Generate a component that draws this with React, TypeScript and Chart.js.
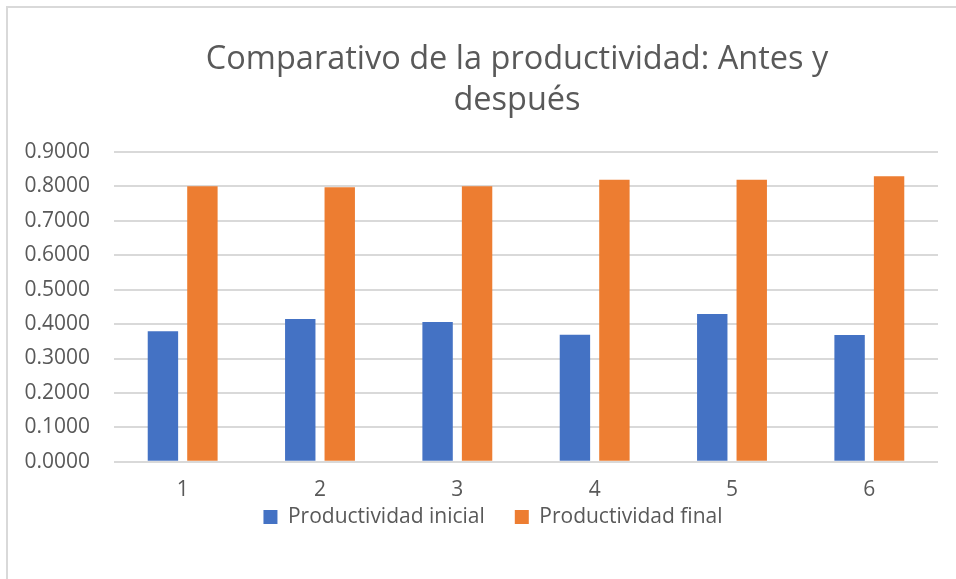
import React, { useEffect, useRef } from "react";
import { Chart, registerables } from "chart.js";

Chart.register(...registerables);

const categories = ["1", "2", "3", "4", "5", "6"];
const productividadInicial = [0.379, 0.415, 0.406, 0.369, 0.429, 0.368];
const productividadFinal = [0.8, 0.797, 0.8, 0.819, 0.819, 0.829];
const seriesNames = ["Productividad inicial", "Productividad final"];
const titleLines = ["Comparativo de la productividad: Antes y", "después"];
const yMax = 0.9;
const yStep = 0.1;

const FONT = "'Open Sans', 'Noto Sans', sans-serif";
const TEXT = "#595959";
const GRID = "#d9d9d9";
const LEGEND_PAD = 30;
const LEGEND_FONT = 21;

const placeBoxes = {
  id: "placeBoxes",
  afterLayout(chart: any) {
    const shift = (box: any, target: number) => {
      if (!box) return;
      const c = (box.left + box.right) / 2;
      const dx = target - c;
      box.left += dx;
      box.right += dx;
    };
    shift(chart.titleBlock, 517);
    shift(chart.legend, 493);
    const lg = chart.legend;
    if (lg) {
      const top = 517 - LEGEND_PAD - LEGEND_FONT / 2;
      lg.top = top;
      lg.bottom = top + lg.height;
    }
  },
};

export default function App() {
  const ref = useRef<HTMLCanvasElement | null>(null);
  useEffect(() => {
    if (!ref.current) return;
    const chart = new Chart(ref.current, {
      type: "bar",
      data: {
        labels: categories,
        datasets: [
          {
            label: seriesNames[0],
            data: productividadInicial,
            backgroundColor: "#4472C4",
            categoryPercentage: 0.575,
            barPercentage: 0.77,
          },
          {
            label: seriesNames[1],
            data: productividadFinal,
            backgroundColor: "#ED7D31",
            categoryPercentage: 0.575,
            barPercentage: 0.77,
          },
        ],
      },
      plugins: [placeBoxes],
      options: {
        animation: false,
        responsive: false,
        maintainAspectRatio: false,
        layout: { padding: { left: 20, right: 18, top: 0, bottom: 7 } },
        plugins: {
          title: {
            display: true,
            text: titleLines,
            color: TEXT,
            font: { family: FONT, size: 32.5, weight: "normal", lineHeight: 1.26 },
            padding: { top: 39, bottom: 31 },
          },
          legend: {
            position: "bottom",
            labels: {
              color: TEXT,
              font: { family: FONT, size: LEGEND_FONT },
              boxWidth: 14,
              boxHeight: 14,
              padding: LEGEND_PAD,
            },
          },
          tooltip: { enabled: false },
        },
        scales: {
          x: {
            grid: { display: false },
            border: { display: false },
            ticks: { color: TEXT, font: { family: FONT, size: 21 }, padding: 8 },
          },
          y: {
            min: 0,
            max: yMax,
            afterFit(scale: any) {
              scale.width = 94;
            },
            grid: { color: GRID, lineWidth: 2, drawTicks: false },
            border: { display: false },
            ticks: {
              stepSize: yStep,
              color: TEXT,
              font: { family: FONT, size: 21 },
              padding: 24,
              callback: (v: any) => Number(v).toFixed(4),
            },
          },
        },
      },
    });
    return () => chart.destroy();
  }, []);
  return (
    <div style={{ position: "fixed", left: 0, top: 0, width: 956, height: 579, background: "#fff", overflow: "hidden" }}>
      <div
        style={{
          position: "absolute",
          left: 6,
          top: 6,
          width: 960,
          height: 600,
          borderLeft: `2px solid ${GRID}`,
          borderTop: `2px solid ${GRID}`,
        }}
      />
      <canvas ref={ref} width={956} height={579} style={{ position: "absolute", left: 0, top: 0 }} />
    </div>
  );
}
